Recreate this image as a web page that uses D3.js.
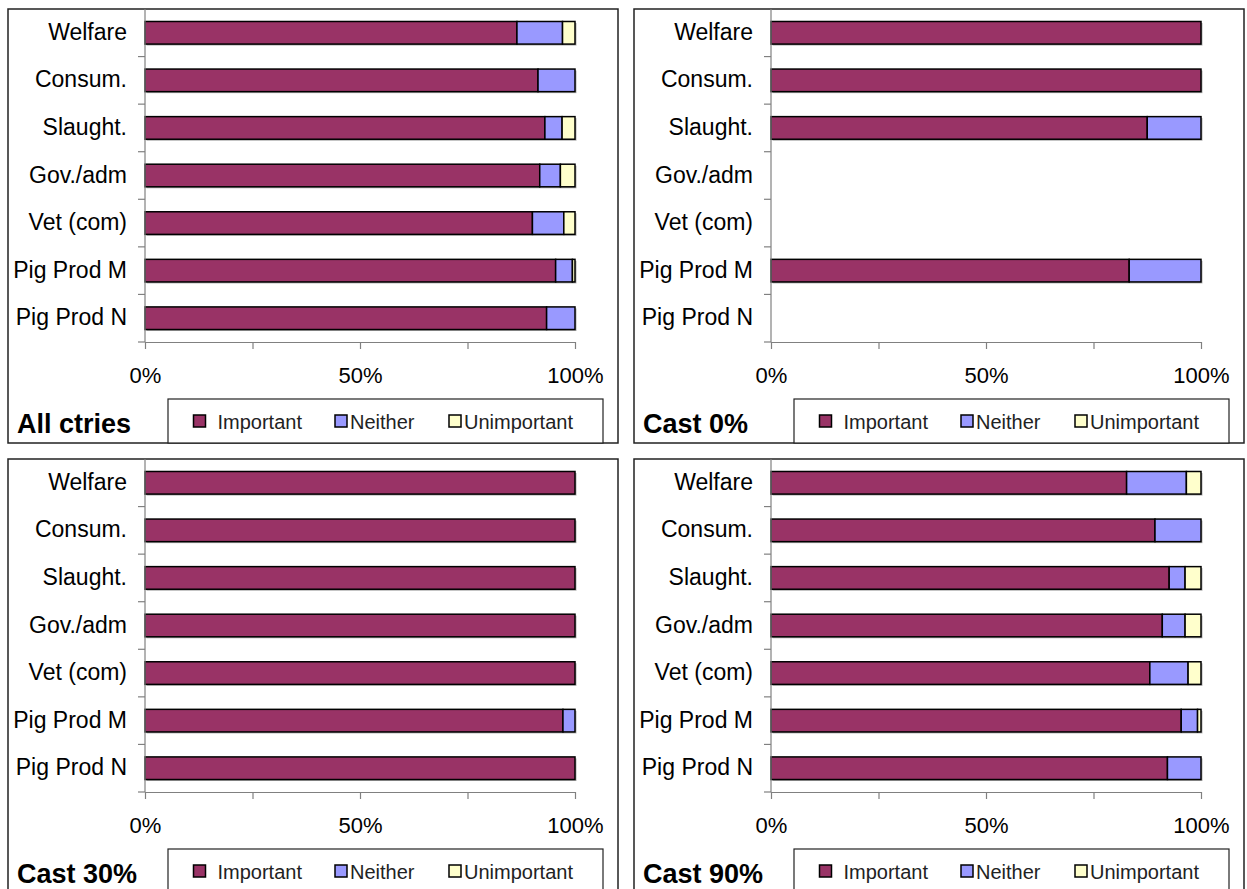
<!DOCTYPE html>
<html>
<head>
<meta charset="utf-8">
<script src="https://cdn.jsdelivr.net/npm/d3@7"></script>
<style>
  html, body { margin: 0; padding: 0; background: #fff; }
  svg { display: block; font-family: "Liberation Sans", Arial, sans-serif; }
</style>
</head>
<body>
<svg id="chart" width="1247" height="889"></svg>
<script>
// ---- data ----
const categories = ["Welfare", "Consum.", "Slaught.", "Gov./adm", "Vet (com)", "Pig Prod M", "Pig Prod N"];
const seriesNames = ["Important", "Neither", "Unimportant"];
const seriesColors = ["#993366", "#9999FF", "#FFFFCC"];
const panelTitles = ["All ctries", "Cast 0%", "Cast 30%", "Cast 90%"];

const allImportant   = [86.5, 91.4, 93.0, 91.8, 90.1, 95.5, 93.4];
const allNeither     = [10.6,  8.6,  4.0,  4.8,  7.3,  3.9,  6.6];
const allUnimportant = [ 2.9,  0.0,  3.0,  3.4,  2.6,  0.6,  0.0];

const c0Important   = [100, 100, 87.5, 0, 0, 83.3, 0];
const c0Neither     = [  0,   0, 12.5, 0, 0, 16.7, 0];
const c0Unimportant = [  0,   0,  0,   0, 0,  0,   0];

const c30Important   = [100, 100, 100, 100, 100, 97.2, 100];
const c30Neither     = [  0,   0,   0,   0,   0,  2.8,   0];
const c30Unimportant = [  0,   0,   0,   0,   0,  0,     0];

const c90Important   = [82.7, 89.3, 92.6, 91.0, 88.1, 95.4, 92.2];
const c90Neither     = [13.9, 10.7,  3.7,  5.3,  8.9,  3.8,  7.8];
const c90Unimportant = [ 3.4,  0.0,  3.7,  3.7,  3.0,  0.8,  0.0];

const xTicks = [0, 25, 50, 75, 100];
const xTickLabels = ["0%", "", "50%", "", "100%"];

const panelData = [
  [allImportant, allNeither, allUnimportant],
  [c0Important, c0Neither, c0Unimportant],
  [c30Important, c30Neither, c30Unimportant],
  [c90Important, c90Neither, c90Unimportant]
];

// ---- layout ----
const panelPos = [[8, 9], [634, 9], [8, 459], [634, 459]];
const panelW = 610, panelH = 434;
const plotOffX = 137, plotW = 430, plotH = 333;

const svg = d3.select("#chart");

panelPos.forEach((pos, pi) => {
  const [L, T] = pos;
  const g = svg.append("g");
  const x0 = L + plotOffX;
  const x = d3.scaleLinear().domain([0, 100]).range([x0, x0 + plotW]);
  const pad = 0.525;
  const y = d3.scaleBand().domain(categories).range([T, T + plotH])
    .paddingInner(pad).paddingOuter(pad / 2);

  // panel border
  g.append("rect")
    .attr("x", L).attr("y", T).attr("width", panelW).attr("height", panelH)
    .attr("fill", "#fff").attr("stroke", "#222").attr("stroke-width", 1.5);

  // stacked data
  const rows = categories.map((c, i) => {
    const o = { cat: c };
    seriesNames.forEach((s, si) => o[s] = panelData[pi][si][i]);
    return o;
  });
  const stacked = d3.stack().keys(seriesNames)(rows);

  // bar shadows
  g.append("g").selectAll("rect")
    .data(rows.filter(r => seriesNames.some(s => r[s] > 0)))
    .join("rect")
    .attr("x", d => x(0) + 1.5)
    .attr("y", d => y(d.cat) + 1.5)
    .attr("width", d => x(seriesNames.reduce((a, s) => a + d[s], 0)) - x(0))
    .attr("height", y.bandwidth())
    .attr("fill", "#b0b0b0");

  stacked.forEach((layer, si) => {
    g.append("g").selectAll("rect")
      .data(layer.filter(d => d[1] - d[0] > 0))
      .join("rect")
      .attr("x", d => x(d[0]))
      .attr("y", d => y(d.data.cat))
      .attr("width", d => x(d[1]) - x(d[0]))
      .attr("height", y.bandwidth())
      .attr("fill", seriesColors[si])
      .attr("stroke", "#000")
      .attr("stroke-width", 1.5);
  });

  // y axis line + boundary ticks
  const axisCol = "#808080";
  g.append("line")
    .attr("x1", x0).attr("x2", x0).attr("y1", T).attr("y2", T + plotH)
    .attr("stroke", axisCol).attr("stroke-width", 1.2);
  const step = y.step();
  const bounds = categories.map(c => y(c) - step * pad / 2 + step).slice(0, categories.length - 1);
  bounds.push(T + plotH);
  g.append("g").selectAll("line").data(bounds).join("line")
    .attr("x1", x0 - 7).attr("x2", x0).attr("y1", d => d).attr("y2", d => d)
    .attr("stroke", axisCol).attr("stroke-width", 1.2);

  // category labels
  g.append("g").selectAll("text").data(categories).join("text")
    .attr("x", x0 - 18)
    .attr("y", d => y(d) + y.bandwidth() / 2 + 7)
    .attr("text-anchor", "end")
    .attr("font-size", 23)
    .attr("fill", "#000")
    .text(d => d);

  // x axis
  const xAxis = d3.axisBottom(x).tickValues(xTicks)
    .tickFormat((d, i) => xTickLabels[i]).tickSize(7).tickSizeOuter(0);
  const ax = g.append("g").attr("transform", `translate(0,${T + plotH})`).call(xAxis);
  ax.select(".domain").attr("stroke", axisCol).attr("stroke-width", 1.2);
  ax.selectAll(".tick line").attr("stroke", axisCol).attr("stroke-width", 1.2);
  ax.selectAll(".tick text")
    .attr("y", 41).attr("dy", 0)
    .attr("font-size", 22)
    .attr("font-family", "Liberation Sans, Arial, sans-serif")
    .attr("fill", "#000");

  // title
  g.append("text")
    .attr("x", L + 9).attr("y", T + 424)
    .attr("font-size", 27).attr("font-weight", "bold")
    .attr("fill", "#000")
    .text(panelTitles[pi]);

  // legend
  const lgX = L + 160, lgY = T + 390;
  g.append("rect")
    .attr("x", lgX).attr("y", lgY).attr("width", 435).attr("height", panelH - 390)
    .attr("fill", "#fff").attr("stroke", "#222").attr("stroke-width", 1.2);
  const itemX = [25.5, 167, 281];
  seriesNames.forEach((s, si) => {
    g.append("rect")
      .attr("x", lgX + itemX[si]).attr("y", lgY + 16)
      .attr("width", 12).attr("height", 12)
      .attr("fill", seriesColors[si]).attr("stroke", "#000").attr("stroke-width", 1.5);
    g.append("text")
      .attr("x", lgX + itemX[si] + (si === 0 ? 24 : 15))
      .attr("y", lgY + 29.5)
      .attr("font-size", 20)
      .attr("fill", "#222")
      .text(s);
  });
});
</script>
</body>
</html>
